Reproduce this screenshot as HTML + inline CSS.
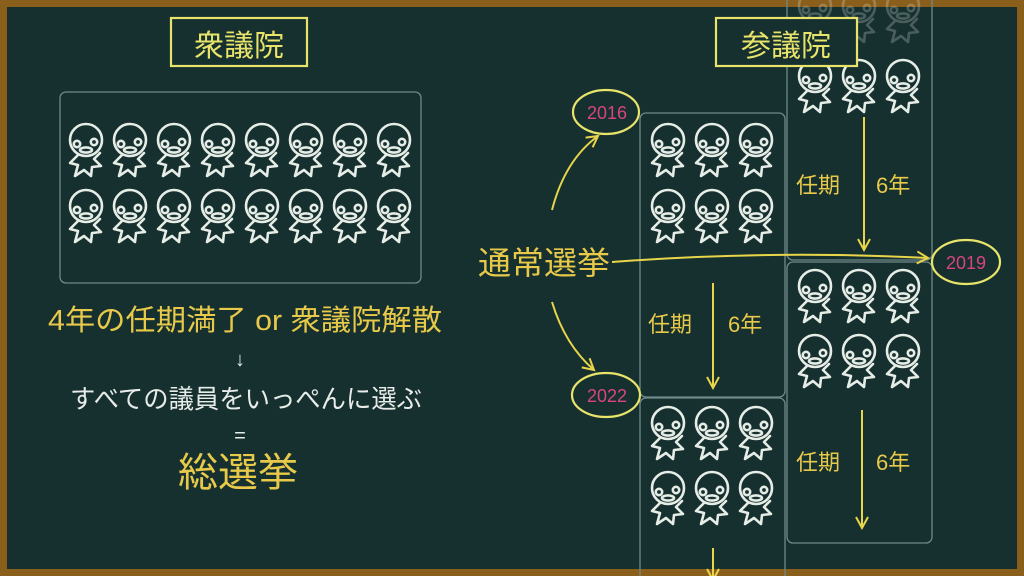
<!DOCTYPE html><html><head><meta charset="utf-8"><style>
html,body{margin:0;padding:0;background:#8a5f1c}
svg{display:block}
text{font-family:"Liberation Sans","Noto Sans CJK JP",sans-serif}
</style></head><body>
<svg width="1024" height="576" viewBox="0 0 1024 576" xmlns="http://www.w3.org/2000/svg">
<defs>
<symbol id="p" viewBox="0 0 40 56" width="40" height="56">
<g fill="none" stroke="#e6ece6" stroke-width="2.6" stroke-linejoin="round" stroke-linecap="round">
<circle cx="20" cy="18" r="16"/>
<circle cx="11" cy="22" r="3.2"/><circle cx="28" cy="20" r="3.2"/>
<ellipse cx="20" cy="28" rx="6" ry="2.6"/>
<path d="M12 33 L4 41 L12 43 L9 54 L18 48 L25 54 L26 45 L35 44 L28 37 L34 31"/>
</g></symbol>
<marker id="a" markerWidth="14" markerHeight="14" refX="12" refY="7" orient="auto" markerUnits="userSpaceOnUse"><path d="M1 1 L12 7 L1 13" fill="none" stroke="#e8d54a" stroke-width="2"/></marker>
</defs>
<rect x="7" y="7" width="1010" height="562" fill="#15302f"/>
<g fill="none" stroke="#6f8a88" stroke-width="1.3">
<rect x="60" y="92" width="361" height="191" rx="6"/>
<rect x="640" y="113" width="145" height="284" rx="6"/>
<rect x="640" y="398" width="145" height="190" rx="6"/>
<rect x="787" y="-10" width="145" height="270" rx="6"/>
<rect x="787" y="262" width="145" height="281" rx="6"/>
</g>
<g id="L">
<use href="#p" x="66" y="122"/><use href="#p" x="110" y="122"/><use href="#p" x="154" y="122"/><use href="#p" x="198" y="122"/><use href="#p" x="242" y="122"/><use href="#p" x="286" y="122"/><use href="#p" x="330" y="122"/><use href="#p" x="374" y="122"/>
<use href="#p" x="66" y="188"/><use href="#p" x="110" y="188"/><use href="#p" x="154" y="188"/><use href="#p" x="198" y="188"/><use href="#p" x="242" y="188"/><use href="#p" x="286" y="188"/><use href="#p" x="330" y="188"/><use href="#p" x="374" y="188"/>
</g>
<use href="#p" x="648" y="122"/><use href="#p" x="692" y="122"/><use href="#p" x="736" y="122"/>
<use href="#p" x="648" y="188"/><use href="#p" x="692" y="188"/><use href="#p" x="736" y="188"/>
<use href="#p" x="648" y="405"/><use href="#p" x="692" y="405"/><use href="#p" x="736" y="405"/>
<use href="#p" x="648" y="470"/><use href="#p" x="692" y="470"/><use href="#p" x="736" y="470"/>
<use href="#p" x="795" y="58"/><use href="#p" x="839" y="58"/><use href="#p" x="883" y="58"/>
<g opacity="0.25"><use href="#p" x="795" y="-12"/><use href="#p" x="839" y="-12"/><use href="#p" x="883" y="-12"/></g>
<use href="#p" x="795" y="268"/><use href="#p" x="839" y="268"/><use href="#p" x="883" y="268"/>
<use href="#p" x="795" y="333"/><use href="#p" x="839" y="333"/><use href="#p" x="883" y="333"/>
<g fill="none" stroke="#e8e36a" stroke-width="2.2">
<rect x="171" y="18" width="136" height="48" fill="#15302f"/>
<rect x="716" y="18" width="141" height="48" fill="#15302f"/>
<ellipse cx="606" cy="112" rx="33" ry="22"/>
<ellipse cx="606" cy="395" rx="34" ry="22"/>
<ellipse cx="966" cy="262" rx="34" ry="22"/>
</g>
<g fill="none" stroke="#e8d54a" stroke-width="2" marker-end="url(#a)">
<path d="M552 210 Q565 160 598 136"/>
<path d="M552 302 Q565 345 594 370"/>
<path d="M612 262 Q770 250 928 258"/>
<path d="M864 117 L864 250"/>
<path d="M713 283 L713 388"/>
<path d="M862 410 L862 528"/>
<path d="M713 548 L713 580"/>
</g>
<g fill="#e8e36a" font-size="30">
<text x="239" y="56" text-anchor="middle">衆議院</text>
<text x="786" y="56" text-anchor="middle">参議院</text>
</g>
<g fill="#e8c94a">
<text x="48" y="330" font-size="29" textLength="394" lengthAdjust="spacingAndGlyphs">4年の任期満了 or 衆議院解散</text>
<text x="238" y="486" font-size="40" text-anchor="middle">総選挙</text>
<text x="478" y="274" font-size="32" textLength="132" lengthAdjust="spacingAndGlyphs">通常選挙</text>
<text x="796" y="193" font-size="22">任期</text><text x="876" y="193" font-size="22">6年</text>
<text x="648" y="332" font-size="22">任期</text><text x="728" y="332" font-size="22">6年</text>
<text x="796" y="470" font-size="22">任期</text><text x="876" y="470" font-size="22">6年</text>
</g>
<g fill="#e8ece8">
<text x="240" y="366" font-size="20" text-anchor="middle">↓</text>
<text x="70" y="408" font-size="26" textLength="352" lengthAdjust="spacingAndGlyphs">すべての議員をいっぺんに選ぶ</text>
<text x="240" y="442" font-size="20" text-anchor="middle">=</text>
</g>
<g fill="#d8457e" font-size="18" text-anchor="middle">
<text x="607" y="119">2016</text><text x="607" y="402">2022</text><text x="966" y="269">2019</text>
</g>
</svg>
</body></html>
